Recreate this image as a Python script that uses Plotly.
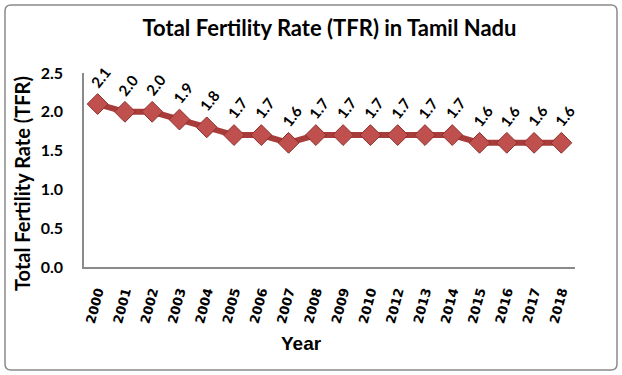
import plotly.graph_objects as go

years = ["2000","2001","2002","2003","2004","2005","2006","2007","2008","2009",
         "2010","2012","2013","2014","2015","2016","2017","2018"]
tfr = [2.1,2.0,2.0,1.9,1.8,1.7,1.7,1.6,1.7,1.7,1.7,1.7,1.7,1.7,1.6,1.6,1.6,1.6]
y_ticks = [0.0, 0.5, 1.0, 1.5, 2.0, 2.5]

L, R, T, B = 84, 47, 73, 108
W, H = 622, 375
pw, ph = W - L - R, H - T - B

def px(x):
    return (x - L) / pw

def py(y):
    return (H - B - y) / ph

fig = go.Figure()
fig.add_trace(go.Scatter(
    x=years, y=tfr, mode="lines+markers",
    line=dict(color="#a83c3a", width=6),
    marker=dict(symbol="diamond", size=16, color="#c0504d",
                line=dict(color="#8c2f2d", width=1)),
    hoverinfo="x+y", showlegend=False,
))

for i, (yr, v) in enumerate(zip(years, tfr)):
    fig.add_annotation(x=i, y=v, xref="x", yref="y", text=f"{v:.1f}",
                       showarrow=False, textangle=-52, xshift=3, yshift=27,
                       font=dict(family="Lato, Open Sans, sans-serif", size=15,
                                 color="#000", weight="bold"))

# axis titles (placed as in the original)
fig.add_annotation(x=px(301), y=py(343), xref="paper", yref="paper",
                   text="Year", showarrow=False, xanchor="center", yanchor="middle",
                   font=dict(family="Liberation Sans, Arial, sans-serif", size=19,
                             color="#000", weight="bold"))
fig.add_annotation(x=px(22), y=py(184), xref="paper", yref="paper",
                   text="Total Fertility Rate (TFR)", showarrow=False, textangle=-90,
                   xanchor="center", yanchor="middle",
                   font=dict(family="Lato, Open Sans, sans-serif", size=20,
                             color="#000", weight="bold"))

# outer frame (rounded rectangle)
x0, x1, yt, yb = px(5), px(617), py(5), py(370)
rx, ry = 6 / pw, 6 / ph
path = (f"M {x0+rx},{yt} L {x1-rx},{yt} Q {x1},{yt} {x1},{yt-ry} "
        f"L {x1},{yb+ry} Q {x1},{yb} {x1-rx},{yb} L {x0+rx},{yb} "
        f"Q {x0},{yb} {x0},{yb+ry} L {x0},{yt-ry} Q {x0},{yt} {x0+rx},{yt} Z")
fig.add_shape(type="path", xref="paper", yref="paper", path=path,
              line=dict(color="#8a8a8a", width=1.5), layer="below")

fig.update_layout(
    width=W, height=H,
    margin=dict(l=L, r=R, t=T, b=B),
    paper_bgcolor="white", plot_bgcolor="white",
    title=dict(text="Total Fertility Rate (TFR) in Tamil Nadu",
               x=0.5, xref="paper", xanchor="center",
               y=1 - 28 / H, yanchor="middle",
               font=dict(family="Lato, Open Sans, sans-serif", size=22,
                         color="#000", weight="bold")),
    xaxis=dict(type="category", range=[-0.5, len(years) - 0.5],
               showline=True, linecolor="#8a8a8a", linewidth=1.5,
               showgrid=False, zeroline=False, ticks="",
               tickangle=-75, ticklabelstandoff=10,
               tickfont=dict(family="Verdana, DejaVu Sans, sans-serif", size=13,
                             color="#000", weight="bold")),
    yaxis=dict(range=[0, 2.5], tickvals=y_ticks, tickformat=".1f",
               showline=True, linecolor="#8a8a8a", linewidth=1.5,
               showgrid=False, zeroline=False, ticks="",
               ticklabelstandoff=16,
               tickfont=dict(family="Lato, Open Sans, sans-serif", size=16,
                             color="#000", weight="bold")),
)

fig.write_html("out.html", config={"displayModeBar": False},
               post_script="document.body.style.margin='0';")
